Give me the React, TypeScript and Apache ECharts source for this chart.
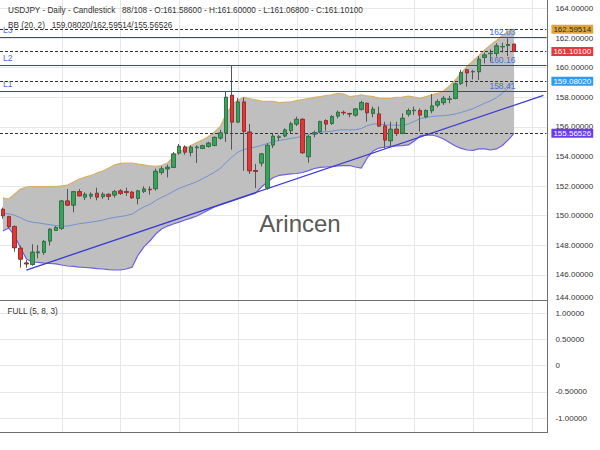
import React, { useEffect, useRef } from "react";
import * as echarts from "echarts";

const symbol = "USDJPY";
const totalBars = 108;
const emptySlots = 5;

const opens = [
  150.43, 149.93, 149.26, 147.8, 146.8, 146.71, 147.5, 147.53, 148.29, 149.0,
  149.15, 150.99, 150.72, 151.62, 151.26, 151.33, 151.51, 151.29, 151.44, 151.4,
  151.67, 151.62, 151.58, 151.17, 151.65, 151.78, 151.83, 152.93, 153.17, 153.27,
  154.24, 154.64, 154.28, 154.6, 154.55, 154.69, 154.75, 155.25, 155.59, 158.13,
  156.33, 157.68, 155.65, 153.04, 153.56, 151.87, 154.78, 155.3, 155.39, 155.75,
  156.2, 156.51, 153.99, 155.52, 155.68, 156.42, 156.24, 156.74, 156.98, 156.9,
  156.8, 157.19, 157.59, 156.92, 156.87, 156.06, 155.07, 155.84, 155.57, 156.87,
  157.1, 157.1, 156.69, 157.1, 157.48, 157.64, 157.86, 157.93, 158.95, 159.85,
  159.73, 159.73, 160.7, 160.95, 160.97, 161.42, 161.5, 161.586,
];
const closes = [
  150.0, 149.26, 147.84, 147.07, 146.75, 147.53, 147.55, 148.25, 149.08, 149.2,
  150.99, 150.72, 151.62, 151.35, 151.44, 151.44, 151.26, 151.44, 151.31, 151.62,
  151.51, 151.58, 151.22, 151.67, 151.8, 151.76, 153.0, 153.16, 153.27, 154.17,
  154.69, 154.3, 154.62, 154.63, 154.72, 154.9, 155.29, 155.59, 158.0, 156.33,
  157.68, 155.7, 153.04, 153.0, 154.17, 154.75, 155.36, 155.32, 155.79, 156.2,
  156.51, 154.26, 155.34, 155.6, 156.35, 156.2, 156.69, 156.98, 156.96, 156.88,
  157.21, 157.64, 156.96, 157.19, 156.06, 155.12, 155.84, 155.57, 156.58, 157.1,
  157.12, 156.81, 157.1, 157.41, 157.7, 157.93, 157.88, 158.9, 159.66, 159.66,
  159.74, 160.57, 160.86, 160.97, 161.47, 161.43, 161.56, 161.101,
];
const lows = [
  149.8, 149.15, 147.57, 146.49, 146.49, 146.62, 147.12, 147.35, 147.98, 148.97,
  149.03, 150.68, 150.23, 151.3, 151.06, 151.13, 151.04, 151.13, 151.06, 151.22,
  151.4, 151.35, 151.13, 150.77, 151.53, 151.42, 151.69, 152.77, 152.59, 153.22,
  154.12, 154.12, 154.01, 153.56, 154.5, 154.6, 154.69, 155.14, 154.98, 154.46,
  156.26, 153.04, 152.82, 151.87, 153.33, 151.76, 154.57, 155.07, 155.3, 155.57,
  156.06, 154.17, 153.58, 155.3, 155.57, 155.75, 156.13, 156.58, 156.8, 156.65,
  156.69, 157.1, 156.35, 156.65, 156.0, 154.55, 154.67, 155.39, 155.5, 156.69,
  156.8, 155.68, 156.58, 156.92, 157.32, 157.48, 157.59, 157.86, 158.83, 158.72,
  159.21, 159.17, 160.3, 160.41, 160.75, 161.02, 160.79, 161.068,
];
const highs = [
  150.55, 150.0, 149.35, 147.98, 147.0, 148.07, 148.02, 148.36, 149.15, 149.3,
  151.06, 151.8, 151.67, 151.8, 151.58, 151.58, 151.89, 151.58, 151.51, 151.74,
  151.8, 151.89, 151.67, 151.74, 151.98, 151.98, 153.18, 153.34, 153.45, 154.3,
  154.84, 154.75, 154.75, 154.75, 154.8, 155.0, 155.36, 155.81, 158.4, 160.16,
  157.95, 158.0, 156.2, 153.5, 154.24, 154.9, 155.59, 155.45, 155.9, 156.35,
  156.69, 156.58, 155.45, 155.74, 156.42, 156.51, 156.8, 157.1, 157.1, 156.96,
  157.25, 157.77, 157.64, 157.37, 157.37, 156.35, 156.35, 156.35, 156.92, 157.25,
  157.37, 157.25, 157.19, 158.22, 157.86, 158.09, 158.09, 158.99, 159.85, 159.89,
  159.85, 160.79, 161.02, 161.24, 161.65, 161.69, 161.98, 161.6,
];

const upperBand = [
  151.2, 151.13, 151.47, 151.8, 151.94, 151.97, 151.97, 151.97, 151.97, 151.97,
  152.01, 152.07, 152.28, 152.48, 152.61, 152.72, 152.89, 153.02, 153.22, 153.43,
  153.53, 153.56, 153.56, 153.49, 153.43, 153.36, 153.34, 153.39, 153.56, 153.97,
  154.3, 154.54, 154.74, 154.95, 155.12, 155.35, 155.66, 156.03, 156.87, 157.48,
  157.82, 157.99, 157.92, 157.82, 157.75, 157.73, 157.72, 157.65, 157.68, 157.7,
  157.78, 157.85, 157.92, 157.99, 158.05, 158.12, 158.16, 158.26, 158.22, 158.05,
  158.09, 158.16, 158.09, 158.04, 157.95, 157.93, 157.93, 157.99, 158.02, 158.09,
  158.02, 157.93, 158.05, 158.16, 158.26, 158.43, 158.76, 159.17, 159.64, 160.08,
  160.45, 160.82, 161.2, 161.53, 161.84, 162.18, 162.45, 162.59514,
];
const middleBand = [
  150.13, 150.13, 150.03, 149.86, 149.66, 149.56, 149.51, 149.45, 149.39, 149.33,
  149.3, 149.3, 149.38, 149.46, 149.51, 149.57, 149.63, 149.7, 149.81, 149.89,
  149.94, 150.01, 150.11, 150.38, 150.59, 150.77, 151.02, 151.24, 151.41, 151.65,
  151.84, 152.0, 152.15, 152.3, 152.5, 152.71, 152.94, 153.2, 153.61, 153.97,
  154.29, 154.48, 154.57, 154.64, 154.76, 154.87, 155.01, 155.08, 155.15, 155.22,
  155.28, 155.37, 155.49, 155.57, 155.64, 155.68, 155.71, 155.78, 155.81, 155.79,
  155.81, 155.89, 156.08, 156.2, 156.2, 156.14, 156.12, 156.12, 156.1, 156.2,
  156.37, 156.56, 156.64, 156.7, 156.74, 156.76, 156.8, 156.87, 156.98, 157.1,
  157.23, 157.42, 157.6, 157.77, 157.98, 158.27, 158.64, 159.0802,
];
const lowerBand = [
  148.97, 149.17, 148.63, 147.82, 147.07, 146.87, 146.84, 146.8, 146.77, 146.74,
  146.67, 146.6, 146.57, 146.53, 146.5, 146.47, 146.43, 146.4, 146.36, 146.33,
  146.33, 146.4, 146.53, 147.34, 147.89, 148.29, 148.76, 149.1, 149.3, 149.44,
  149.57, 149.71, 149.84, 149.98, 150.18, 150.39, 150.59, 150.72, 150.86, 150.99,
  151.13, 151.26, 151.4, 151.53, 151.94, 152.28, 152.58, 152.72, 152.78, 152.82,
  152.85, 152.92, 153.05, 153.19, 153.26, 153.29, 153.32, 153.36, 153.39, 153.39,
  153.29, 153.22, 153.9, 154.37, 154.57, 154.64, 154.68, 154.71, 154.74, 154.78,
  155.05, 155.39, 155.45, 155.45, 155.35, 155.18, 154.95, 154.71, 154.55, 154.44,
  154.41, 154.51, 154.51, 154.44, 154.51, 154.74, 155.12, 155.56526,
];

const levelValues = [158.41, 160.16, 162.03];
const levelNames = ["L1", "L2", "L3"];
const trendStart = [4, 146.33];
const trendEnd = [92, 158.13];

const priceMin = 144;
const priceMax = 164;
const priceStep = 2;
const oscMin = -1;
const oscMax = 1;
const oscStep = 0.5;
const gridLineEvery = 10;

const FONT = "'Liberation Sans', Arial, Helvetica, sans-serif";
const GREEN = "#3f9e5e";
const GREEN_D = "#2b7a45";
const RED = "#dc3a3a";
const RED_D = "#a82a2a";
const WICK = "#555555";
const LEVEL_BLUE = "#3b3bc6";
const LEVEL_TEXT = "#4f6fd0";
const GRIDC = "#e6e6e6";
const FRAME = "#6e6e6e";

const categories = Array.from({ length: opens.length + emptySlots }, (_, i) => String(i + 1));
const last = opens.length - 1;

export default function App() {
  const ref = useRef<HTMLDivElement>(null);
  useEffect(() => {
    document.body.style.margin = "0";
    const chart = echarts.init(ref.current as HTMLDivElement, null, { renderer: "svg" });

    const wickData = opens.map((o, i) => [o, closes[i], lows[i], highs[i]]);
    const bodyData = opens.map((o, i) => [o, closes[i], Math.min(o, closes[i]), Math.max(o, closes[i])]);
    const bandDiff = upperBand.map((u, i) => +(u - lowerBand[i]).toFixed(6));

    const boxes = [
      { value: upperBand[last], bg: "#dea53a", fg: "#2a2a2a" },
      { value: closes[last], bg: "#e23b3b", fg: "#ffffff" },
      { value: middleBand[last], bg: "#2f9bef", fg: "#ffffff" },
      { value: lowerBand[last], bg: "#6a3cf0", fg: "#ffffff" },
    ];

    const markData: any[] = [];
    boxes.forEach((b) => {
      markData.push({
        yAxis: b.value,
        lineStyle: { color: "#333", width: 1, type: [3, 2] },
        label: {
          show: true,
          position: "end",
          distance: 5,
          formatter: b.value.toFixed(5),
          backgroundColor: b.bg,
          color: b.fg,
          fontSize: 8,
          fontFamily: FONT,
          padding: [1, 2, 0, 2],
        },
      });
    });
    levelValues.forEach((v, i) => {
      markData.push({
        yAxis: v,
        lineStyle: { color: LEVEL_BLUE, width: 1, type: "solid" },
        label: {
          show: true,
          position: "insideStartTop",
          distance: 3,
          formatter: levelNames[i],
          color: LEVEL_TEXT,
          fontSize: 8.5,
          fontFamily: FONT,
        },
      });
      markData.push({
        yAxis: v,
        lineStyle: { color: LEVEL_BLUE, width: 1, type: "solid" },
        label: {
          show: true,
          position: "insideEndTop",
          distance: 1,
          formatter: v.toFixed(2),
          color: LEVEL_TEXT,
          fontSize: 8.5,
          fontFamily: FONT,
          padding: [0, 30, 0, 0],
        },
      });
    });

    const option: any = {
      animation: false,
      backgroundColor: "#ffffff",
      textStyle: { fontFamily: FONT },
      grid: [
        { left: 0, top: 8.5, width: 546.4, height: 296, show: false },
        { left: 0, top: 313, width: 546.4, height: 105, show: false },
      ],
      xAxis: [
        {
          type: "category", gridIndex: 0, data: categories, boundaryGap: true,
          axisLine: { show: false }, axisTick: { show: false }, axisLabel: { show: false }, splitLine: { show: false },
        },
        {
          type: "category", gridIndex: 1, data: categories, boundaryGap: true,
          axisLine: { show: false }, axisTick: { show: false }, axisLabel: { show: false }, splitLine: { show: false },
        },
      ],
      yAxis: [
        {
          type: "value", gridIndex: 0, position: "right", min: priceMin, max: priceMax, interval: priceStep,
          axisLine: { show: false }, axisTick: { show: false },
          axisLabel: {
            margin: 9, fontSize: 8, color: "#333", fontFamily: FONT,
            formatter: (v: number) => (v === priceMin ? `{lift|${v.toFixed(5)}}` : v.toFixed(5)),
            rich: { lift: { fontSize: 8, color: "#333", fontFamily: FONT, padding: [0, 0, 14, 0] } },
          },
          splitLine: { show: true, showMinLine: false, lineStyle: { color: GRIDC, width: 1 } },
        },
        {
          type: "value", gridIndex: 1, position: "right", min: oscMin, max: oscMax, interval: oscStep,
          axisLine: { show: false }, axisTick: { show: false },
          axisLabel: {
            margin: 9, fontSize: 8, color: "#333", fontFamily: FONT,
            formatter: (v: number) => (v === 0 ? "0" : v.toFixed(5)),
          },
          splitLine: { show: true, lineStyle: { color: GRIDC, width: 1 } },
        },
      ],
      series: [
        {
          name: "bbBase", type: "line", xAxisIndex: 0, yAxisIndex: 0, data: lowerBand, stack: "bb",
          symbol: "none", silent: true, lineStyle: { width: 0, opacity: 0 }, z: 1,
        },
        {
          name: "bbFill", type: "line", xAxisIndex: 0, yAxisIndex: 0, data: bandDiff, stack: "bb",
          symbol: "none", silent: true, lineStyle: { width: 0, opacity: 0 },
          areaStyle: { color: "#bfbfbf", opacity: 1 }, z: 1,
        },
        {
          name: "upper", type: "line", xAxisIndex: 0, yAxisIndex: 0, data: upperBand, symbol: "none", silent: true,
          lineStyle: { color: "#d7b063", width: 1.2 }, z: 2,
        },
        {
          name: "lower", type: "line", xAxisIndex: 0, yAxisIndex: 0, data: lowerBand, symbol: "none", silent: true,
          lineStyle: { color: "#6d5fe0", width: 1.2 }, z: 2,
        },
        {
          name: "middle", type: "line", xAxisIndex: 0, yAxisIndex: 0, data: middleBand, symbol: "none", silent: true,
          lineStyle: { color: "#6f93cf", width: 1 }, z: 2,
        },
        {
          name: "trend", type: "line", xAxisIndex: 0, yAxisIndex: 0, data: [trendStart, trendEnd], symbol: "none",
          silent: true, lineStyle: { color: "#3a3ad2", width: 1.3 }, z: 3,
        },
        {
          name: "wicks", type: "candlestick", xAxisIndex: 0, yAxisIndex: 0, data: wickData, barWidth: "68%",
          silent: true, z: 4,
          itemStyle: { color: WICK, color0: WICK, borderColor: WICK, borderColor0: WICK, borderWidth: 1 },
        },
        {
          name: "bodies", type: "candlestick", xAxisIndex: 0, yAxisIndex: 0, data: bodyData, barWidth: "68%",
          silent: true, z: 5,
          itemStyle: { color: GREEN, color0: RED, borderColor: GREEN_D, borderColor0: RED_D, borderWidth: 1 },
          markLine: { symbol: ["none", "none"], silent: true, animation: false, data: markData },
        },
      ],
    };
    chart.setOption(option);

    const header1 = `${symbol} - Daily - Candlestick   ${opens.length}/${totalBars} - O:${opens[last].toFixed(5)} - H:${highs[last].toFixed(5)} - L:${lows[last].toFixed(5)} - C:${closes[last].toFixed(5)}`;
    const header2 = `BB (20, 2)   ${middleBand[last].toFixed(5)}/${upperBand[last].toFixed(5)}/${lowerBand[last].toFixed(5)}`;

    const els: any[] = [];
    for (let i = gridLineEvery; i < categories.length; i += gridLineEvery) {
      const px = chart.convertToPixel({ xAxisIndex: 0 }, categories[i]) as number;
      const x = Math.round(px) + 0.5;
      els.push({ type: "line", z: 0, silent: true, shape: { x1: x, y1: 0, x2: x, y2: 432 }, style: { stroke: GRIDC, lineWidth: 1 } });
    }
    els.push({ type: "line", z: 50, silent: true, shape: { x1: 0, y1: 300.5, x2: 547.5, y2: 300.5 }, style: { stroke: FRAME, lineWidth: 1 } });
    els.push({ type: "line", z: 50, silent: true, shape: { x1: 0, y1: 432.5, x2: 547.5, y2: 432.5 }, style: { stroke: FRAME, lineWidth: 1 } });
    els.push({ type: "line", z: 50, silent: true, shape: { x1: 547.5, y1: 0, x2: 547.5, y2: 433 }, style: { stroke: FRAME, lineWidth: 1 } });
    els.push({ type: "text", z: 100, silent: true, x: 8, y: 10.5, style: { text: header1, fontSize: 8.2, fontFamily: FONT, fill: "#333", verticalAlign: "middle" } });
    els.push({ type: "text", z: 100, silent: true, x: 8, y: 25.5, style: { text: header2, fontSize: 8.2, fontFamily: FONT, fill: "#333", verticalAlign: "middle" } });
    els.push({ type: "text", z: 100, silent: true, x: 7.5, y: 311.5, style: { text: "FULL (5, 8, 3)", fontSize: 8.2, fontFamily: FONT, fill: "#333", verticalAlign: "middle" } });
    els.push({ type: "text", z: 100, silent: true, x: 300, y: 223, style: { text: "Arincen", fontSize: 24, fontFamily: FONT, fill: "#585858", align: "center", verticalAlign: "middle" } });
    chart.setOption({ graphic: els });

    return () => chart.dispose();
  }, []);
  return (
    <div
      ref={ref}
      style={{ position: "absolute", left: 0, top: 0, width: 600, height: 450, background: "#fff" }}
    />
  );
}
